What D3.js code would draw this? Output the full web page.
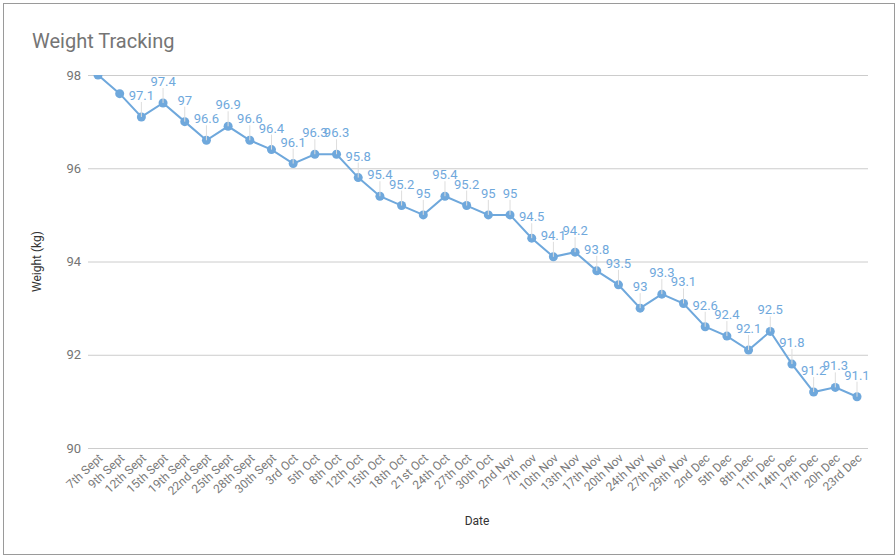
<!DOCTYPE html>
<html lang="en">
	<head>
		<meta charset="utf-8">
		<title>Weight Tracking</title>
		<script type="text/javascript" src="https://cdnjs.cloudflare.com/ajax/libs/d3/7.8.5/d3.min.js"></script>
		<style type="text/css">
			body { margin: 0; background: #fff; }
			text { font-family: Roboto, "Noto Sans", sans-serif; }
		</style>
	</head>
	<body>
		<script type="text/javascript">
			//Data
			var dates = ["7th Sept", "9th Sept", "12th Sept", "15th Sept", "19th Sept", "22nd Sept",
						 "25th Sept", "28th Sept", "30th Sept", "3rd Oct", "5th Oct", "8th Oct",
						 "12th Oct", "15th Oct", "18th Oct", "21st Oct", "24th Oct", "27th Oct",
						 "30th Oct", "2nd Nov", "7th nov", "10th Nov", "13th Nov", "17th Nov",
						 "20th Nov", "24th Nov", "27th Nov", "29th Nov", "2nd Dec", "5th Dec",
						 "8th Dec", "11th Dec", "14th Dec", "17th Dec", "20h Dec", "23rd Dec"];
			var weights = [98, 97.6, 97.1, 97.4, 97, 96.6, 96.9, 96.6, 96.4, 96.1, 96.3, 96.3,
						   95.8, 95.4, 95.2, 95, 95.4, 95.2, 95, 95, 94.5, 94.1, 94.2, 93.8,
						   93.5, 93, 93.3, 93.1, 92.6, 92.4, 92.1, 92.5, 91.8, 91.2, 91.3, 91.1];
			var yTicks = [90, 92, 94, 96, 98];

			//Width and height
			var w = 896;
			var h = 556;
			var plotL = 88, plotR = 868, plotT = 75, plotB = 448;
			var blue = "#6fa8dc";

			var xScale = d3.scalePoint()
							.domain(dates)
							.range([98, 857]);

			var yScale = d3.scaleLinear()
							.domain([90, 98])
							.range([plotB, plotT]);

			var svg = d3.select("body")
						.append("svg")
						.attr("width", w)
						.attr("height", h);

			//Frame
			svg.append("rect")
			   .attr("x", 3.5)
			   .attr("y", 3.5)
			   .attr("width", 891)
			   .attr("height", 551)
			   .attr("fill", "#fff")
			   .attr("stroke", "#9a9a9a");

			//Title
			svg.append("text")
			   .attr("x", 32)
			   .attr("y", 48)
			   .attr("font-size", "20px")
			   .attr("fill", "#757575")
			   .text("Weight Tracking");

			//Gridlines + y labels
			var yAxis = d3.axisLeft(yScale)
						  .tickValues(yTicks)
						  .tickSize(-(plotR - plotL))
						  .tickPadding(7)
						  .tickFormat(d3.format("d"));
			var gy = svg.append("g")
						.attr("transform", "translate(" + plotL + ",0)")
						.call(yAxis);
			gy.select(".domain").remove();
			gy.selectAll("line").attr("stroke", "#cccccc");
			gy.selectAll("text")
			  .attr("font-size", "13px")
			  .attr("fill", "#757575")
			  .attr("font-family", "Roboto, sans-serif");

			//X labels
			var xAxis = d3.axisBottom(xScale).tickSize(0).tickPadding(0);
			var gx = svg.append("g")
						.attr("transform", "translate(0," + plotB + ")")
						.call(xAxis);
			gx.select(".domain").remove();
			gx.selectAll("text")
			  .attr("font-size", "12px")
			  .attr("fill", "#7a7a7a")
			  .attr("font-family", "Roboto, sans-serif")
			  .attr("text-anchor", "end")
			  .attr("dy", null)
			  .attr("y", 0)
			  .attr("transform", "translate(5,11) rotate(-43)");

			//Axis titles
			svg.append("text")
			   .attr("x", 477)
			   .attr("y", 525)
			   .attr("text-anchor", "middle")
			   .attr("font-size", "12px")
			   .attr("fill", "#333")
			   .text("Date");
			svg.append("text")
			   .attr("transform", "translate(41," + ((plotT + plotB) / 2) + ") rotate(-90)")
			   .attr("text-anchor", "middle")
			   .attr("font-size", "12px")
			   .attr("fill", "#333")
			   .text("Weight (kg)");

			//Clip to chart area
			svg.append("clipPath")
			   .attr("id", "plot")
			   .append("rect")
			   .attr("x", plotL)
			   .attr("y", plotT)
			   .attr("width", plotR - plotL)
			   .attr("height", plotB - plotT);

			var plot = svg.append("g").attr("clip-path", "url(#plot)");

			var idx = d3.range(dates.length);

			//Annotation stems and labels (hidden when they would leave the chart area)
			var shown = idx.filter(function(i) {
				return yScale(weights[i]) - 26 > plotT;
			});

			svg.selectAll("line.stem")
			   .data(shown)
			   .enter()
			   .append("line")
			   .attr("class", "stem")
			   .attr("x1", function(i) { return xScale(dates[i]); })
			   .attr("x2", function(i) { return xScale(dates[i]); })
			   .attr("y1", function(i) { return yScale(weights[i]); })
			   .attr("y2", function(i) { return yScale(weights[i]) - 15; })
			   .attr("stroke", "#dddddd")
			   .attr("stroke-width", 1);

			//Line
			var line = d3.line()
						 .x(function(i) { return xScale(dates[i]); })
						 .y(function(i) { return yScale(weights[i]); });

			plot.append("path")
				.datum(idx)
				.attr("d", line)
				.attr("fill", "none")
				.attr("stroke", blue)
				.attr("stroke-width", 2);

			//Points
			plot.selectAll("circle")
				.data(idx)
				.enter()
				.append("circle")
				.attr("cx", function(i) { return xScale(dates[i]); })
				.attr("cy", function(i) { return yScale(weights[i]); })
				.attr("r", 4.5)
				.attr("fill", blue);

			svg.selectAll("text.ann")
			   .data(shown)
			   .enter()
			   .append("text")
			   .attr("class", "ann")
			   .attr("x", function(i) { return xScale(dates[i]); })
			   .attr("y", function(i) { return yScale(weights[i]) - 17; })
			   .attr("text-anchor", "middle")
			   .attr("font-size", "13px")
			   .attr("fill", blue)
			   .text(function(i) { return weights[i]; });
		</script>
	</body>
</html>
